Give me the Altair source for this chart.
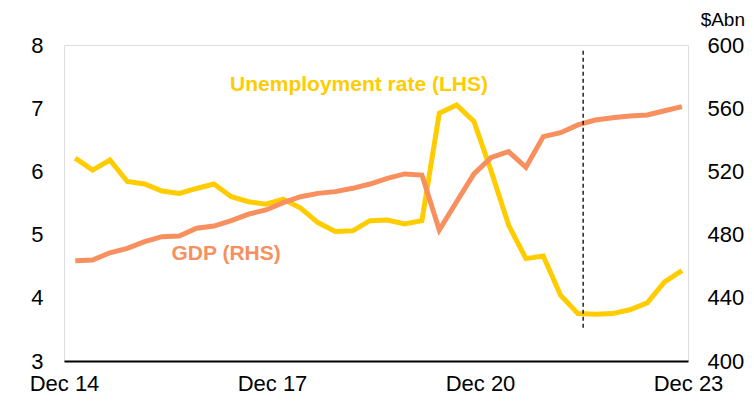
import altair as alt
import pandas as pd

quarters = ["Mar 15", "Jun 15", "Sep 15", "Dec 15", "Mar 16", "Jun 16", "Sep 16", "Dec 16",
            "Mar 17", "Jun 17", "Sep 17", "Dec 17", "Mar 18", "Jun 18", "Sep 18", "Dec 18",
            "Mar 19", "Jun 19", "Sep 19", "Dec 19", "Mar 20", "Jun 20", "Sep 20", "Dec 20",
            "Mar 21", "Jun 21", "Sep 21", "Dec 21", "Mar 22", "Jun 22", "Sep 22", "Dec 22",
            "Mar 23", "Jun 23", "Sep 23", "Dec 23"]
unemployment = [6.21, 6.02, 6.18, 5.84, 5.80, 5.69, 5.65, 5.73, 5.80, 5.60, 5.52, 5.48,
                5.56, 5.42, 5.19, 5.05, 5.06, 5.22, 5.23, 5.17, 5.22, 6.92, 7.05, 6.79,
                6.00, 5.15, 4.62, 4.66, 4.04, 3.75, 3.74, 3.75, 3.81, 3.92, 4.25, 4.43]
gdp = [463.5, 463.9, 468.5, 471.3, 475.5, 478.7, 479.1, 484.0, 485.4, 488.8, 493.0, 495.6,
       500.2, 504.0, 506.1, 507.2, 509.3, 512.0, 515.6, 518.4, 517.7, 482.9, 500.8, 518.4,
       528.9, 532.5, 522.6, 542.0, 544.5, 549.4, 552.5, 554.0, 555.0, 555.7, 558.4, 561.0]

tick_labels = ["Dec 14", "Dec 17", "Dec 20", "Dec 23"]
tick_positions = [-0.65, 11.35, 23.35, 35.35]
left_ticks = [3, 4, 5, 6, 7, 8]
right_ticks = [400, 440, 480, 520, 560, 600]
marker_q = 29.3
label_unemp = {"text": "Unemployment rate (LHS)", "q": 16.37, "v": 7.37}
label_gdp = {"text": "GDP (RHS)", "q": 8.7, "v": 467.7}

YELLOW = "#FFCC00"
ORANGE = "#F7905E"
FONT = "Liberation Sans"

df = pd.DataFrame({"q": list(range(len(quarters))), "quarter": quarters,
                   "unemp": unemployment, "gdp": gdp})

label_expr = " : ".join(
    f"datum.value < {p + 0.5} ? '{t}'" for p, t in zip(tick_positions[:-1], tick_labels[:-1])
) + f" : '{tick_labels[-1]}'"

x_enc = alt.X("q:Q",
              scale=alt.Scale(domain=[tick_positions[0], tick_positions[-1]], nice=False, zero=False),
              axis=alt.Axis(values=tick_positions, labelExpr=label_expr, title=None, grid=False,
                            ticks=False, domain=True, domainColor="black", domainWidth=2,
                            labelFontSize=22, labelFont=FONT, labelColor="black",
                            labelPadding=12, labelFlush=False, labelOverlap=False))

left_scale = alt.Scale(domain=[3, 8], nice=False, zero=False)
right_scale = alt.Scale(domain=[400, 600], nice=False, zero=False)

unemp_line = alt.Chart(df).mark_line(color=YELLOW, strokeWidth=5).encode(
    x=x_enc,
    y=alt.Y("unemp:Q", scale=left_scale,
            axis=alt.Axis(orient="left", values=left_ticks, format="d", title=None, grid=False,
                          ticks=False, domain=False, labelFontSize=22, labelFont=FONT,
                          labelColor="black", labelPadding=21)),
)
unemp_text = alt.Chart(pd.DataFrame([label_unemp])).mark_text(
    font=FONT, fontSize=21, fontWeight="bold", color=YELLOW, align="center", baseline="middle"
).encode(x=alt.X("q:Q"), y=alt.Y("v:Q"), text="text:N")
left_layer = alt.layer(unemp_line, unemp_text)

gdp_line = alt.Chart(df).mark_line(color=ORANGE, strokeWidth=5).encode(
    x=alt.X("q:Q"),
    y=alt.Y("gdp:Q", scale=right_scale,
            axis=alt.Axis(orient="right", values=right_ticks, format="d", title=None, grid=False,
                          ticks=False, domain=False, labelFontSize=22, labelFont=FONT,
                          labelColor="black", labelPadding=19)),
)
gdp_text = alt.Chart(pd.DataFrame([label_gdp])).mark_text(
    font=FONT, fontSize=21, fontWeight="bold", color=ORANGE, align="center", baseline="middle"
).encode(x=alt.X("q:Q"), y=alt.Y("v:Q"), text="text:N")
unit_text = alt.Chart(pd.DataFrame({"t": ["$Abn"]})).mark_text(
    font=FONT, fontSize=19, color="black", align="right", baseline="alphabetic"
).encode(x=alt.value(681), y=alt.value(-19), text="t:N")
right_layer = alt.layer(gdp_line, gdp_text, unit_text)

rule = alt.Chart(pd.DataFrame({"q": [marker_q], "top": [7.91], "bottom": [3.49]})).mark_rule(
    color="black", strokeWidth=1.3, strokeDash=[4, 3]
).encode(
    x=alt.X("q:Q"),
    y=alt.Y("top:Q", scale=left_scale, axis=None),
    y2="bottom:Q",
)

chart = alt.layer(left_layer, right_layer, rule).resolve_scale(y="independent").properties(
    width=624, height=316,
    autosize=alt.AutoSizeParams(type="none"),
    padding={"left": 56, "top": 37, "right": 58, "bottom": 33},
).configure_view(stroke=None).configure(background="white")

chart.save("out.html", embed_options={"renderer": "svg", "actions": False})
